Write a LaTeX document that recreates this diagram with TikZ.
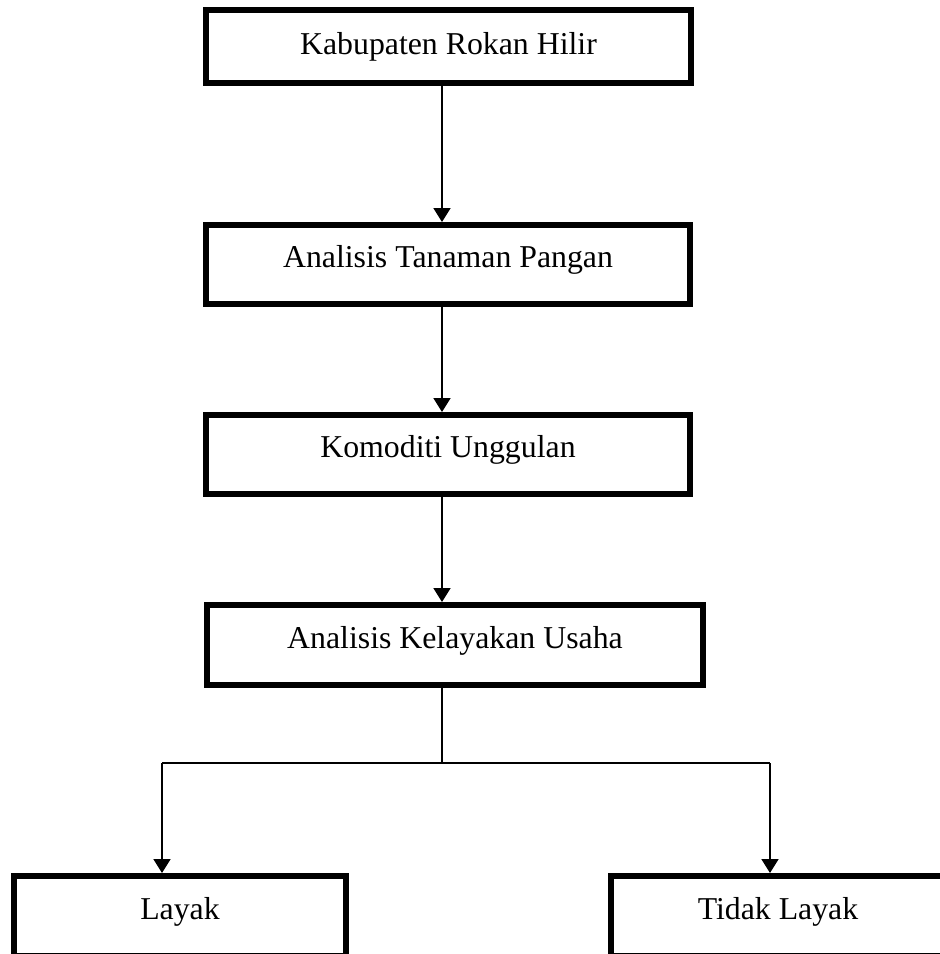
\documentclass[tikz,border=0pt]{standalone}
\usepackage{fontspec}
\setmainfont{Liberation Serif}
\usetikzlibrary{arrows.meta}
\begin{document}
\begin{tikzpicture}[x=1pt,y=-1pt,
  box/.style={draw=black, line width=6pt, rectangle, inner sep=0pt,
    font=\fontsize{31.8}{38}\selectfont, text height=24pt, text depth=18pt},
  topbox/.style={box, text height=28pt, text depth=12pt},
  conn/.style={draw=black, line width=1.8pt},
  arr/.style={conn, -{Triangle[width=17pt,length=14pt]}}]
\useasboundingbox (0,0) rectangle (940,954);
\clip (0,0) rectangle (940,954);
\node[topbox, minimum width=485pt, minimum height=73pt] (b1) at (448.5,46.5) {Kabupaten Rokan Hilir};
\node[box, minimum width=484pt, minimum height=79pt] (b2) at (448,264.5) {Analisis Tanaman Pangan};
\node[box, minimum width=484pt, minimum height=79pt] (b3) at (448,454.5) {Komoditi Unggulan};
\node[box, minimum width=496pt, minimum height=80pt] (b4) at (455,645) {Analisis Kelayakan Usaha};
\node[box, minimum width=332pt, minimum height=80pt] (layak) at (180,916) {Layak};
\node[box, minimum width=334pt, minimum height=80pt] (tidak) at (778,916) {Tidak Layak};
\coordinate (spine) at (442,0);
\coordinate (split) at (442,763);
\coordinate (lx) at (162,763);
\coordinate (rx) at (770,763);
\draw[arr] (spine |- b1.south) -- (spine |- b2.north);
\draw[arr] (spine |- b2.south) -- (spine |- b3.north);
\draw[arr] (spine |- b3.south) -- (spine |- b4.north);
\draw[conn] (spine |- b4.south) -- (split);
\draw[conn] (lx) -- (rx);
\draw[arr] (lx) -- (lx |- layak.north);
\draw[arr] (rx) -- (rx |- tidak.north);
\end{tikzpicture}
\end{document}
